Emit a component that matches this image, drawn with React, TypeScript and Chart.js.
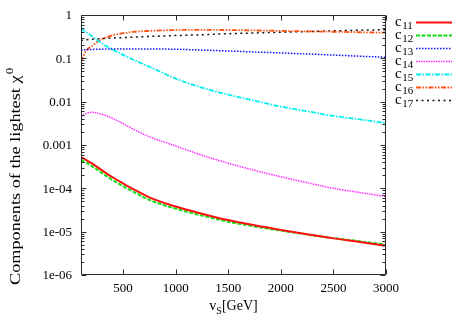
import React, { useEffect, useRef } from 'react';
import { Chart, registerables } from 'chart.js';

Chart.register(...registerables);

// v_S [GeV]
const vS = [100, 150, 200, 300, 400, 500, 600, 750, 1000, 1250, 1500, 1750, 2000, 2250, 2500, 2750, 3000];

const c11 = [5.2e-4, 4.5e-4, 3.8e-4, 2.6e-4, 1.8e-4, 1.3e-4, 9.5e-5, 6.2e-5, 3.8e-5, 2.6e-5, 1.85e-5, 1.4e-5, 1.1e-5, 8.7e-6, 7.0e-6, 5.8e-6, 4.7e-6];
const c12 = [4.5e-4, 3.9e-4, 3.3e-4, 2.25e-4, 1.55e-4, 1.12e-4, 8.3e-5, 5.4e-5, 3.4e-5, 2.35e-5, 1.7e-5, 1.32e-5, 1.06e-5, 8.6e-6, 7.1e-6, 6.0e-6, 5.0e-6];
const c13 = [0.155, 0.158, 0.16, 0.163, 0.164, 0.165, 0.165, 0.165, 0.162, 0.155, 0.148, 0.14, 0.133, 0.126, 0.119, 0.112, 0.106];
const c14 = [0.0044, 0.0053, 0.0057, 0.0051, 0.0041, 0.0031, 0.0023, 0.00155, 0.00095, 0.00058, 0.00038, 0.00026, 0.000185, 0.000135, 0.0001, 0.00008, 0.000065];
const c15 = [0.49, 0.4, 0.33, 0.22, 0.16, 0.12, 0.092, 0.064, 0.034, 0.021, 0.0145, 0.0105, 0.0077, 0.006, 0.0047, 0.0039, 0.0032];
const c16 = [0.084, 0.15, 0.19, 0.28, 0.34, 0.38, 0.41, 0.43, 0.45, 0.455, 0.45, 0.44, 0.43, 0.42, 0.41, 0.40, 0.39];
const c17 = [0.26, 0.268, 0.275, 0.285, 0.295, 0.30, 0.308, 0.32, 0.335, 0.35, 0.37, 0.385, 0.40, 0.415, 0.43, 0.445, 0.46];

const seriesSubs = ['11', '12', '13', '14', '15', '16', '17'];
const seriesData = [c11, c12, c13, c14, c15, c16, c17];
const seriesColors = ['#ff1010', '#10e010', '#1010ff', '#ff30ff', '#00f0f0', '#ff5010', '#151515'];
const seriesDash: number[][] = [[], [4, 1.5], [1.5, 1.5], [1.5, 1], [5, 1.5, 1.5, 1.5], [5, 1.5, 1.5, 1.5, 1.5, 1.5], [2, 3.5]];
const seriesWidth = [2, 2, 1.5, 1.5, 1.8, 1.8, 1.5];

const xTicks = [500, 1000, 1500, 2000, 2500, 3000];
const yTicks = [1, 0.1, 0.01, 0.001, 1e-4, 1e-5, 1e-6];
const yTickLabels = ['1', '0.1', '0.01', '0.001', '1e-04', '1e-05', '1e-06'];

const SERIF = '"Liberation Serif", "DejaVu Serif", serif';

const framePlugin = {
  id: 'gnuframe',
  afterDatasetsDraw(chart: any) {
    const { ctx, chartArea, scales } = chart;
    const { left, right, top, bottom } = chartArea;
    const x = scales.x;
    const y = scales.y;
    ctx.save();
    ctx.strokeStyle = '#2a2a2a';
    ctx.lineWidth = 1;
    const L = Math.round(left) + 0.5;
    const R = Math.round(right) - 0.5;
    const T = Math.round(top) + 0.5;
    const B = Math.round(bottom) - 0.5;
    ctx.beginPath();
    ctx.rect(L, T, R - L, B - T);
    ctx.stroke();

    // x ticks (bottom & top, inward)
    ctx.beginPath();
    for (const v of xTicks) {
      const px = Math.round(x.getPixelForValue(v)) + 0.5;
      ctx.moveTo(px, B);
      ctx.lineTo(px, B - 5);
      ctx.moveTo(px, T);
      ctx.lineTo(px, T + 5);
    }
    // y ticks (left & right, inward) with log minor ticks
    for (let e = -6; e <= 0; e++) {
      const d = Math.pow(10, e);
      const kmax = e === 0 ? 1 : 9;
      for (let k = 1; k <= kmax; k++) {
        const v = k * d;
        const py = Math.round(y.getPixelForValue(v)) + 0.5;
        const len = k === 1 ? 5 : 3;
        ctx.moveTo(L, py);
        ctx.lineTo(L + len, py);
        ctx.moveTo(R, py);
        ctx.lineTo(R - len, py);
      }
    }
    ctx.stroke();

    // tick labels
    ctx.fillStyle = '#000';
    ctx.font = `13px ${SERIF}`;
    ctx.textAlign = 'right';
    ctx.textBaseline = 'middle';
    yTicks.forEach((v, i) => {
      ctx.fillText(yTickLabels[i], left - 9, y.getPixelForValue(v) + 1);
    });
    ctx.textAlign = 'center';
    ctx.textBaseline = 'alphabetic';
    xTicks.forEach((v) => {
      ctx.fillText(String(v), x.getPixelForValue(v), bottom + 17);
    });

    // x title: v_S[GeV]
    {
      const f1 = `14px ${SERIF}`;
      const f2 = `10px ${SERIF}`;
      ctx.font = f1;
      const wv = ctx.measureText('v').width;
      const wr = ctx.measureText('[GeV]').width;
      ctx.font = f2;
      const ws = ctx.measureText('S').width;
      const total = wv + ws + wr;
      let cx = (left + right) / 2 - total / 2;
      ctx.textAlign = 'left';
      ctx.font = f1;
      ctx.fillText('v', cx, bottom + 35);
      cx += wv;
      ctx.font = f2;
      ctx.fillText('S', cx, bottom + 39);
      cx += ws;
      ctx.font = f1;
      ctx.fillText('[GeV]', cx, bottom + 35);
    }

    // y title: Components of the lightest χ^0
    {
      const main = 'Components of the lightest ';
      const f1 = `14px ${SERIF}`;
      const f3 = `10px ${SERIF}`;
      ctx.font = f1;
      const w1 = ctx.measureText(main + 'χ').width;
      ctx.font = f3;
      const w2 = ctx.measureText('0').width;
      const total = w1 + w2;
      const target = 216;
      const sx = target / total;
      ctx.translate(20, 177);
      ctx.rotate(-Math.PI / 2);
      ctx.scale(sx, 1);
      ctx.textAlign = 'left';
      ctx.font = f1;
      ctx.fillText(main + 'χ', -total / 2, 0);
      ctx.font = f3;
      ctx.fillText('0', -total / 2 + w1 + 1, -7);
    }
    ctx.restore();

    // legend
    ctx.save();
    chart.data.datasets.forEach((ds: any, i: number) => {
      const ry = 22 + 13 * i;
      ctx.strokeStyle = ds.borderColor;
      ctx.lineWidth = ds.borderWidth;
      ctx.setLineDash(ds.borderDash || []);
      ctx.beginPath();
      ctx.moveTo(416, ry + 0.5);
      ctx.lineTo(452, ry + 0.5);
      ctx.stroke();
      ctx.setLineDash([]);
      ctx.fillStyle = '#000';
      ctx.textAlign = 'left';
      ctx.textBaseline = 'alphabetic';
      ctx.font = `15px ${SERIF}`;
      ctx.fillText('c', 395, ry + 3.5);
      const wc = ctx.measureText('c').width;
      ctx.font = `11px ${SERIF}`;
      ctx.fillText(seriesSubs[i], 395 + wc + 0.5, ry + 7);
    });
    ctx.restore();
  },
};

export default function App() {
  const ref = useRef<HTMLCanvasElement | null>(null);
  useEffect(() => {
    document.body.style.margin = '0';
    const canvas = ref.current;
    if (!canvas) return;
    const chart = new Chart(canvas, {
      type: 'line',
      data: {
        datasets: seriesData.map((arr, i) => ({
          label: 'c' + seriesSubs[i],
          data: vS.map((v, j) => ({ x: v, y: arr[j] })),
          borderColor: seriesColors[i],
          backgroundColor: seriesColors[i],
          borderWidth: seriesWidth[i],
          borderDash: seriesDash[i],
          pointRadius: 0,
          fill: false,
          cubicInterpolationMode: 'monotone' as const,
        })),
      },
      options: {
        animation: false,
        responsive: false,
        devicePixelRatio: 1,
        layout: { padding: { left: 0, top: 15, right: 81, bottom: 0 } },
        plugins: {
          legend: { display: false },
          tooltip: { enabled: false },
        },
        scales: {
          x: {
            type: 'linear',
            min: 100,
            max: 3000,
            grid: { display: false },
            border: { display: false },
            ticks: { display: false },
            afterFit: (s: any) => {
              s.height = 52;
            },
          },
          y: {
            type: 'logarithmic',
            min: 1e-6,
            max: 1,
            grid: { display: false },
            border: { display: false },
            ticks: { display: false },
            afterFit: (s: any) => {
              s.width = 81;
            },
          },
        },
      },
      plugins: [framePlugin],
    });
    return () => chart.destroy();
  }, []);
  return (
    <div style={{ position: 'absolute', left: 0, top: 0, width: 467, height: 327, background: '#fff' }}>
      <canvas ref={ref} width={467} height={327} style={{ display: 'block' }} />
    </div>
  );
}
